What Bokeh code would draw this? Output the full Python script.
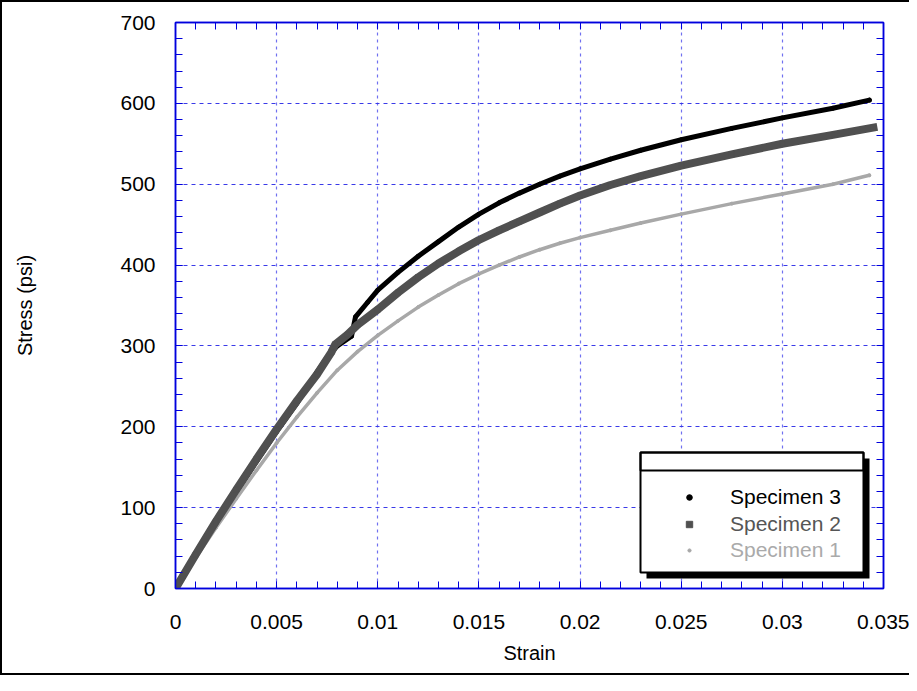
from bokeh.plotting import figure
from bokeh.models import FixedTicker, LinearAxis, BoxAnnotation, Legend, LegendItem, Range1d
from bokeh.embed import file_html
from bokeh.resources import INLINE

# ---- data ----
strain_s3 = [0, 0.001, 0.002, 0.003, 0.004, 0.005, 0.006, 0.007, 0.0075, 0.008, 0.0087,
             0.0089, 0.0095, 0.010, 0.011, 0.012, 0.013, 0.014, 0.015, 0.016, 0.017,
             0.018, 0.019, 0.020, 0.0215, 0.023, 0.025, 0.0275, 0.030, 0.0325, 0.0343]
stress_s3 = [0, 41, 81, 119, 157, 194, 229, 268, 286, 300, 312,
             336, 354, 369, 391, 411, 429, 447, 463, 477, 489,
             500, 510, 519, 531, 542, 555, 569, 582, 594, 604]

strain_s2 = [0, 0.001, 0.002, 0.003, 0.004, 0.005, 0.006, 0.007, 0.0077, 0.0079, 0.0085,
             0.009, 0.010, 0.011, 0.012, 0.013, 0.014, 0.015, 0.016, 0.017, 0.018,
             0.019, 0.020, 0.0215, 0.023, 0.025, 0.0275, 0.030, 0.0325, 0.0345]
stress_s2 = [0, 42, 83, 122, 160, 197, 232, 265, 292, 302, 314,
             326, 345, 366, 385, 402, 417, 431, 443, 454, 465,
             476, 486, 499, 510, 523, 537, 550, 561, 570]

strain_s1 = [0, 0.001, 0.002, 0.003, 0.004, 0.005, 0.006, 0.007, 0.008, 0.009, 0.010,
             0.011, 0.012, 0.013, 0.014, 0.015, 0.016, 0.017, 0.018, 0.019, 0.020,
             0.0215, 0.023, 0.025, 0.0275, 0.030, 0.0325, 0.0343]
stress_s1 = [0, 38, 75, 111, 146, 180, 212, 242, 270, 293, 313,
             331, 348, 363, 377, 389, 400, 410, 419, 427, 434,
             443, 452, 463, 476, 488, 500, 511]

series_names = ["Specimen 3", "Specimen 2", "Specimen 1"]

x_ticks = [0, 0.005, 0.01, 0.015, 0.02, 0.025, 0.03, 0.035]
x_tick_labels = ["0", "0.005", "0.01", "0.015", "0.02", "0.025", "0.03", "0.035"]
y_ticks = [0, 100, 200, 300, 400, 500, 600, 700]
y_tick_labels = ["0", "100", "200", "300", "400", "500", "600", "700"]
x_minor = [round(i * 0.001, 4) for i in range(36)]
y_minor = [i * 20 for i in range(36)]

FONT = "Liberation Sans"
BLUE = "#0000dd"

p = figure(width=909, height=675, output_backend="svg", toolbar_location=None,
           x_range=Range1d(0, 0.035), y_range=Range1d(0, 700),
           min_border_left=175, min_border_right=26, min_border_top=22,
           min_border_bottom=87)
p.border_fill_color = None
p.background_fill_color = "white"
p.outline_line_color = BLUE
p.outline_line_width = 1.5
p.styles = {"box-shadow": "inset 2px 2px 0 0 #000, inset 0 -2px 0 0 #000"}

xt = FixedTicker(ticks=x_ticks, minor_ticks=x_minor)
yt = FixedTicker(ticks=y_ticks, minor_ticks=y_minor)
xt_mirror = FixedTicker(ticks=[], minor_ticks=x_minor)
yt_mirror = FixedTicker(ticks=[], minor_ticks=y_minor)


def style_axis(ax):
    ax.axis_line_color = BLUE
    ax.axis_line_width = 1.5
    ax.major_tick_line_color = BLUE
    ax.minor_tick_line_color = BLUE
    ax.major_tick_in = 7
    ax.major_tick_out = 0
    ax.minor_tick_in = 7
    ax.minor_tick_out = 0
    ax.major_label_text_font = FONT
    ax.major_label_text_color = "black"
    ax.axis_label_text_font = FONT
    ax.axis_label_text_font_style = "normal"
    ax.axis_label_text_color = "black"


xa = p.xaxis[0]
ya = p.yaxis[0]
xa.ticker = xt
ya.ticker = yt
style_axis(xa)
style_axis(ya)
xa.major_label_overrides = {t: s for t, s in zip(x_ticks, x_tick_labels)}
ya.major_label_overrides = {t: s for t, s in zip(y_ticks, y_tick_labels)}
xa.major_label_text_font_size = "21px"
ya.major_label_text_font_size = "21px"
xa.major_label_standoff = 26
ya.major_label_standoff = 20
xa.axis_label = "Strain"
xa.axis_label_text_font_size = "20px"
xa.axis_label_standoff = 10
ya.axis_label = "Stress (psi)"
ya.axis_label_text_font_size = "20px"
ya.axis_label_standoff = 81

ta = LinearAxis(ticker=xt_mirror)
ra = LinearAxis(ticker=yt_mirror)
style_axis(ta)
style_axis(ra)
p.add_layout(ta, "above")
p.add_layout(ra, "right")

p.xgrid.ticker = xt
p.ygrid.ticker = yt
p.xgrid.grid_line_color = "#7070f0"
p.xgrid.grid_line_dash = "3 4"
p.xgrid.grid_line_width = 1.2
p.ygrid.grid_line_color = "#3a3ae8"
p.ygrid.grid_line_dash = "4 4"
p.ygrid.grid_line_width = 1

# ---- data: markers kept inside a line of the same series ----
C3, C2, C1 = "black", "#505050", "#a8a8a8"
p.line(strain_s3, stress_s3, line_color=C3, line_width=5, line_join="round", line_cap="round")
r3 = p.scatter(strain_s3, stress_s3, marker="circle", size=4, color=C3)
p.line(strain_s1, stress_s1, line_color=C1, line_width=3.5, line_join="round", line_cap="round")
r1 = p.scatter(strain_s1, stress_s1, marker="circle", size=3, color=C1)
p.line(strain_s2, stress_s2, line_color=C2, line_width=8, line_join="round", line_cap="square")
r2 = p.scatter(strain_s2, stress_s2, marker="square", size=5, color=C2)

# ---- legend box (screen units, relative to the frame) ----
p.add_layout(BoxAnnotation(left=471, right=694, bottom=10, top=130,
                           left_units="screen", right_units="screen",
                           bottom_units="screen", top_units="screen",
                           fill_color="black", fill_alpha=1, line_color=None))
p.add_layout(BoxAnnotation(left=465, right=688, bottom=16, top=136,
                           left_units="screen", right_units="screen",
                           bottom_units="screen", top_units="screen",
                           fill_color="white", fill_alpha=1, line_color="black",
                           line_alpha=1, line_width=2))
p.add_layout(BoxAnnotation(left=465, right=688, bottom=118, top=136,
                           left_units="screen", right_units="screen",
                           bottom_units="screen", top_units="screen",
                           fill_alpha=0, line_color="black", line_alpha=1, line_width=2))

label_colors = ["#000000", "#555555", "#aaaaaa"]
row_centers = [91, 64, 38]
glyph_boxes = [14, 16, 8]
for name, rend, col, yc, gb in zip(series_names, [r3, r2, r1], label_colors,
                                   row_centers, glyph_boxes):
    lg = Legend(items=[LegendItem(label=name, renderers=[rend])],
                location=(514 - gb // 2, yc - 12), padding=0, margin=0, spacing=0,
                glyph_width=gb, glyph_height=gb, label_height=24,
                label_standoff=41 - gb // 2, border_line_color=None,
                background_fill_alpha=0, label_text_font=FONT,
                label_text_font_size="21px", label_text_color=col)
    p.add_layout(lg, "center")

open("out.html", "w").write(file_html(p, INLINE))
